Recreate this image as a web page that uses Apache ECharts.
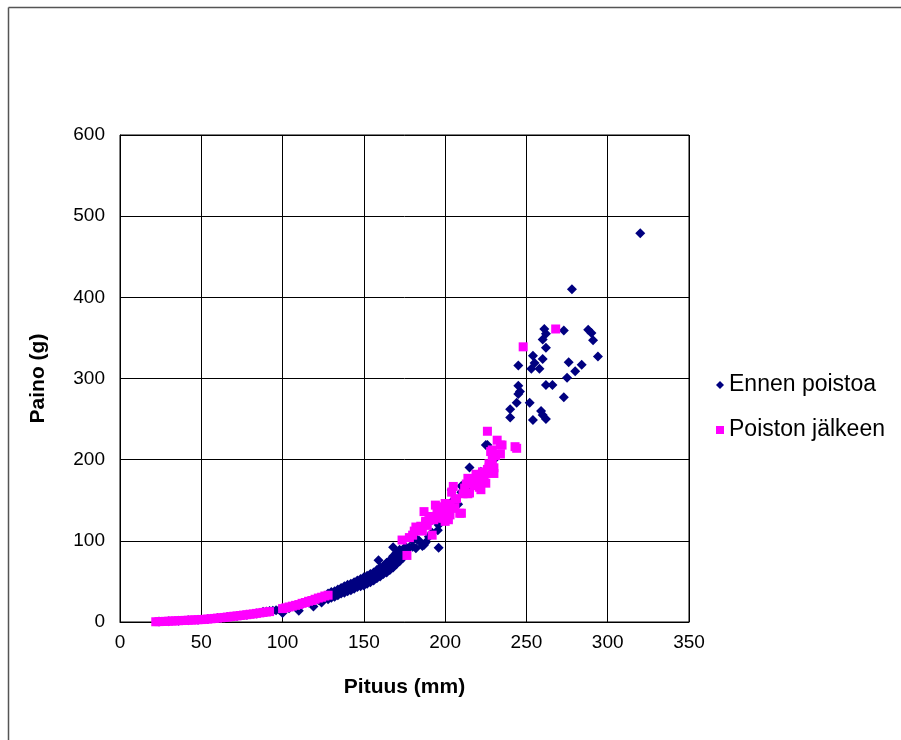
<!DOCTYPE html>
<html>
<head>
<meta charset="utf-8">
<script src="https://cdn.jsdelivr.net/npm/echarts@6/dist/echarts.min.js"></script>
<style>html,body{margin:0;padding:0;background:#fff}#c{width:901px;height:740px}</style>
</head>
<body>
<div id="c"></div>
<script>
// ---- data ----
var xTicks = [0, 50, 100, 150, 200, 250, 300, 350];
var yTicks = [0, 100, 200, 300, 400, 500, 600];
var seriesNames = ['Ennen poistoa', 'Poiston jälkeen'];

// Ennen poistoa (before removal): small fish, mostly hidden under the pink band
var ennenSmall = [
  [24,0.5],[30,1],[36,1.6],[42,2.2],[48,2.8],[54,3.6],[60,4.8],[66,6.1],[72,7.5],[78,9],
  [84,10.6],[88,12.5],[90,13],[92,13.4],[94,13.8],[96,14.4],[98,15],[100,11],[104,17],
  [110,14],[112,22],[116,24],[119,19],[122,27],[124,24],[126,30]
];
// Ennen poistoa: the dense middle of the curve
var ennenMid = [
  [128,31],[128,28],[128,35],[130,33],[130,30],[130,37],[132,34],[132,31],[132,38],
  [134,36],[134,33],[134,40],[136,38],[136,35],[136,42],[138,39],[138,36],[138,44],
  [140,41],[140,38],[140,46],[142,42],[142,39],[142,47],[144,44],[144,41],[144,49],
  [146,46],[146,43],[146,51],[148,47],[148,44],[148,53],[150,49],[150,45],[150,55],
  [152,51],[152,47],[152,57],[154,53],[154,49],[154,59],[156,56],[156,51],[156,61],
  [158,58],[158,54],[158,64],[159,76],[160,61],[160,56],[160,67],[162,63],[162,59],
  [162,69],[163,70],[164,66],[164,61],[164,73],[166,69],[166,64],[166,76],[168,72],
  [168,67],[168,81],[168,92],[170,76],[170,71],[170,85],[172,80],[172,75],[172,89],
  [174,84],[174,79],[175.6,92.7],[176,88],[178,92],[180,92.7],[180,100],[182,91],
  [183,101],[184,100],[186,93.6],[187,95],[188,98],[190,105]
];
// Ennen poistoa: large fish
var ennenLarge = [
  [192,110],[195.5,113],[196,119.5],[196,91.5],[198,125],[200,130],[204,162.6],[205,150],
  [208,145],[210,167.5],[210,160],[215,169.6],[215,190.5],[220,175],[222,185],[225,218],
  [226,218],[230,200],[240,262],[240,252],[244,270],[245,316],[245,291],[246,284],
  [245,281],[252,270],[253,312],[254,328],[254,249],[255,319],[258,312],[259,260],
  [260,348],[260,324],[260,255],[261,361],[262,355],[262,338],[262,292],[262,250],
  [266,292],[273,359],[273,277],[275,301],[276,320],[278,410],[280,309],[284,317],
  [288,360],[290,356],[291,347],[294,327],[320,479]
];
// Poiston jälkeen (after removal): small fish
var jalkeenSmall = [
  [22,0.3],[24,0.5],[26,0.6],[28,0.8],[30,1],[32,1.2],[34,1.4],[36,1.6],[38,1.8],
  [40,2],[42,2.2],[44,2.4],[46,2.6],[48,2.8],[50,3],[52,3.3],[54,3.6],[56,4],[58,4.4],
  [60,4.8],[62,5.2],[64,5.6],[66,6.1],[68,6.6],[70,7.1],[72,7.5],[74,8],[76,8.5],
  [78,9],[80,9.5],[82,10],[84,10.6],[86,11.2],[88,11.8],[90,12.3],[92,12.8],
  [100,16.5],[102,17.5],[104,18.5],[106,19.5],[108,20.5],[110,21.5],[112,23],[114,24],
  [116,25.5],[118,26.5],[120,28],[122,29.5],[124,30.5],[126,32],[128,33]
];
// Poiston jälkeen: large fish
var jalkeenLarge = [
  [173.5,101],[176.5,82],[178,104],[180,107],[181,112],[182,117],[184,115],[185,118],
  [186,112],[187,136],[188,122],[188,124],[189,119],[190,125],[191,130],[192,107],
  [193,126],[193,128],[194,144],[195,135],[196,142],[196,128],[197,132],[198,140],
  [199,128],[200,146],[200,134],[200,124],[201,138],[202,126],[203,145],[203,132],
  [204,160],[205,167],[206,151],[206,140],[207,152],[209,134],[210,134],[211,158],
  [212,165],[213,170],[214,177],[214,158],[215,159],[216,172],[217,175],[218,168],
  [219,182],[220,179],[220,172],[221,166],[222,163],[222,179],[223,185],[224,176],
  [225,171],[225,183],[226,188],[226,235],[227,190],[227,195],[228,193],[228,210],
  [229,212],[229,200],[230,183],[230,190],[231,205],[232,224],[234,218],[234,207],
  [235,218],[243,216],[244,214],[248,339],[268,361]
];

var ennen = ennenSmall.concat(ennenMid, ennenLarge);
var jalkeen = jalkeenSmall.concat(jalkeenLarge);

var chart = echarts.init(document.getElementById('c'), null, {renderer: 'canvas'});
var font = '"Liberation Sans", Arial, sans-serif';
chart.setOption({
  animation: false,
  backgroundColor: '#ffffff',
  textStyle: {fontFamily: font},
  graphic: [
    {type: 'line', shape: {x1: 8.5, y1: 7.5, x2: 8.5, y2: 740}, style: {stroke: '#555', lineWidth: 1.5}},
    {type: 'line', shape: {x1: 8.5, y1: 7.5, x2: 901, y2: 7.5}, style: {stroke: '#555', lineWidth: 1.5}}
  ],
  grid: {left: 120, top: 135, width: 569, height: 487, show: true, borderColor: '#000', borderWidth: 1, containLabel: false},
  legend: {
    orient: 'vertical', left: 711, top: 368, itemWidth: 8, itemHeight: 8, itemGap: 21,
    textStyle: {fontSize: 23, color: '#000', fontFamily: font, lineHeight: 24},
    data: [
      {name: seriesNames[0], icon: 'diamond'},
      {name: seriesNames[1], icon: 'rect'}
    ]
  },
  xAxis: {
    type: 'value', min: xTicks[0], max: xTicks[xTicks.length - 1], interval: xTicks[1] - xTicks[0],
    name: 'Pituus (mm)', nameLocation: 'middle', nameGap: 55,
    nameTextStyle: {fontSize: 21, fontWeight: 'bold', color: '#000', fontFamily: font},
    axisLine: {lineStyle: {color: '#000', width: 1}},
    axisTick: {show: false},
    axisLabel: {fontSize: 19, color: '#000', margin: 11, fontFamily: font},
    splitLine: {show: true, lineStyle: {color: '#000', width: 1}}
  },
  yAxis: {
    type: 'value', min: yTicks[0], max: yTicks[yTicks.length - 1], interval: yTicks[1] - yTicks[0],
    name: 'Paino (g)', nameLocation: 'middle', nameGap: 71, nameRotate: 90,
    nameTextStyle: {fontSize: 21, fontWeight: 'bold', color: '#000', fontFamily: font},
    axisLine: {show: true, lineStyle: {color: '#000', width: 1}},
    axisTick: {show: false},
    axisLabel: {fontSize: 19, color: '#000', margin: 15, fontFamily: font},
    splitLine: {show: true, lineStyle: {color: '#000', width: 1}}
  },
  series: [
    {name: seriesNames[0], type: 'scatter', symbol: 'diamond', symbolSize: 10,
     itemStyle: {color: '#000080', opacity: 1}, data: ennen, z: 2},
    {name: seriesNames[1], type: 'scatter', symbol: 'rect', symbolSize: 9,
     itemStyle: {color: '#ff00ff', opacity: 1}, data: jalkeen, z: 3}
  ]
});
</script>
</body>
</html>
